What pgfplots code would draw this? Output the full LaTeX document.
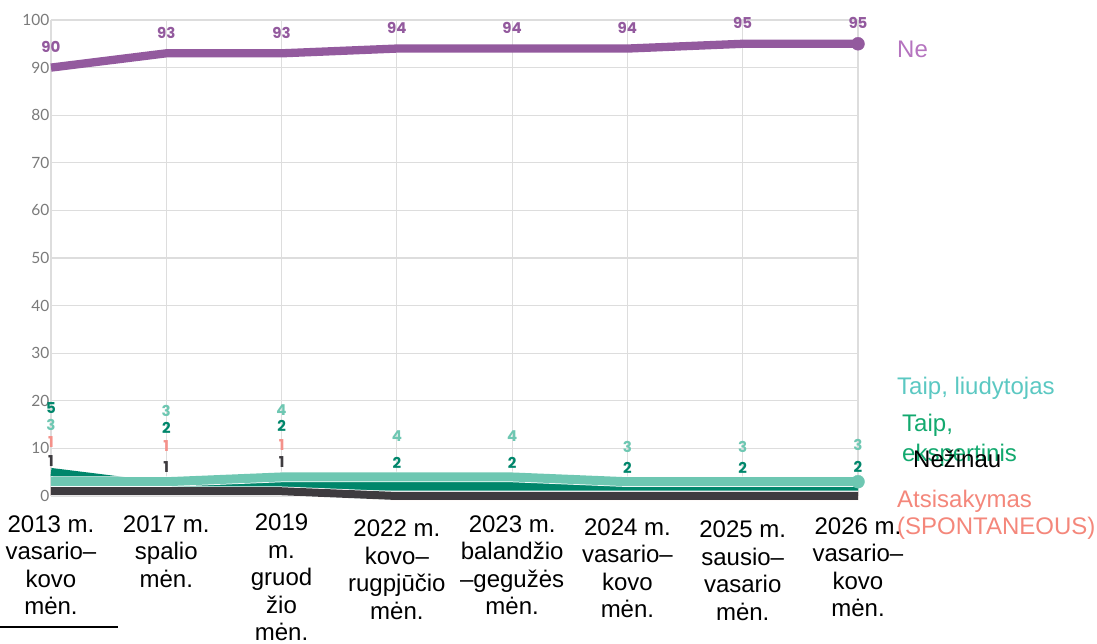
\documentclass[border=0pt]{standalone}
\usepackage{fontspec}
\setmainfont{Liberation Sans}
\newfontfamily\gfont{Lato}
\newfontfamily\pfont{Poppins}
\usepackage{pgfplots}
\pgfplotsset{compat=1.18}
\definecolor{cpurple}{HTML}{935A9E}
\definecolor{cpurpleL}{HTML}{B574BF}
\definecolor{clteal}{HTML}{6EC7B2}
\definecolor{cdgreen}{HTML}{00866B}
\definecolor{cgray}{HTML}{3E3B3F}
\definecolor{csalmon}{HTML}{F4918A}
\definecolor{ctaipL}{HTML}{5BC8C2}
\definecolor{ctaipE}{HTML}{12A96E}
\definecolor{catsi}{HTML}{F4877B}
\definecolor{cgrid}{HTML}{DDDDDD}
\definecolor{ctick}{HTML}{7A7A7A}
\newcommand{\lbl}{\pfont\bfseries\fontsize{15}{15}\selectfont}
\newcommand{\dn}[1]{\rule{0pt}{#1}}
\begin{document}
\begin{tikzpicture}
\path[use as bounding box] (-51pt,-148pt) rectangle (1046pt,496pt);
\begin{axis}[
  at={(0pt,0pt)}, anchor=south west,
  scale only axis, width=807pt, height=476pt,
  xmin=0, xmax=7, ymin=0, ymax=100,
  clip=false,
  axis line style={draw=none},
  grid=major,
  major grid style={draw=cgrid, line width=1.2pt},
  tick style={draw=none},
  xtick={0,1,2,3,4,5,6,7},
  ytick={0,10,20,30,40,50,60,70,80,90,100},
  /pgf/number format/assume math mode=true,
  yticklabel style={font=\gfont\fontsize{15.5}{16}\selectfont, text=ctick, xshift=2pt},
  xticklabel style={font=\fontsize{24}{27.5}\selectfont, align=center, anchor=north, yshift=-18pt, inner sep=0pt},
  xticklabels={
    {\dn{18pt}2013 m.\\vasario–\\kovo\\mėn.},
    {\dn{18pt}2017 m.\\spalio\\mėn.},
    {2019\\m.\\gruod\\žio\\mėn.},
    {\dn{22.5pt}2022 m.\\kovo–\\rugpjūčio\\mėn.},
    {\dn{18pt}2023 m.\\balandžio\\–gegužės\\mėn.},
    {\dn{21pt}2024 m.\\vasario–\\kovo\\mėn.},
    {\dn{23.5pt}2025 m.\\sausio–\\vasario\\mėn.},
    {\dn{20pt}2026 m.\\vasario–\\kovo\\mėn.}},
]
% Atsisakymas (SPONTANEOUS)
\addplot[csalmon, line width=8.5pt, line join=round] coordinates {(0,1) (1,1) (2,1) (3,0) (4,0) (5,0) (6,0) (7,0)};
% Taip, ekspertinis
\addplot[cdgreen, line width=8.5pt, line join=round, preaction={draw=white, line width=10pt}] coordinates {(0,5) (1,2) (2,2) (3,2) (4,2) (5,2) (6,2) (7,2)};
% Taip, liudytojas
\addplot[clteal, line width=9pt, line join=round, preaction={draw=white, line width=10.5pt}] coordinates {(0,3) (1,3) (2,4) (3,4) (4,4) (5,3) (6,3) (7,3)};
\addplot[only marks, mark=*, mark size=6.5pt, clteal, mark options={draw=clteal, fill=clteal}] coordinates {(7,3)};
% Nezinau
\addplot[cgray, line width=8pt, line join=round, preaction={draw=white, line width=9.5pt}] coordinates {(0,1) (1,1) (2,1) (3,0) (4,0) (5,0) (6,0) (7,0)};
% Ne
\addplot[cpurple, line width=8.3pt, line join=round,
  nodes near coords,
  every node near coord/.style={font=\lbl, text=cpurple, anchor=center, yshift=20.5pt}]
  coordinates {(0,90) (1,93) (2,93) (3,94) (4,94) (5,94) (6,95) (7,95)};
\addplot[only marks, mark=*, mark size=6.5pt, cpurple, mark options={draw=cpurple, fill=cpurple}] coordinates {(7,95)};
% small labels
\node[font=\lbl, text=cdgreen] at (axis cs:0,18.4) {5};
\node[font=\lbl, text=clteal] at (axis cs:0,14.9) {3};
\node[font=\lbl, text=csalmon] at (axis cs:0,11.4) {1};
\node[font=\lbl, text=cgray] at (axis cs:0,7.35) {1};
\node[font=\lbl, text=clteal] at (axis cs:1,17.9) {3};
\node[font=\lbl, text=cdgreen] at (axis cs:1,14.3) {2};
\node[font=\lbl, text=csalmon] at (axis cs:1,10.4) {1};
\node[font=\lbl, text=cgray] at (axis cs:1,6.1) {1};
\node[font=\lbl, text=clteal] at (axis cs:2,18.1) {4};
\node[font=\lbl, text=cdgreen] at (axis cs:2,14.8) {2};
\node[font=\lbl, text=csalmon] at (axis cs:2,10.8) {1};
\node[font=\lbl, text=cgray] at (axis cs:2,7.2) {1};
\node[font=\lbl, text=clteal] at (axis cs:3,12.5) {4};
\node[font=\lbl, text=cdgreen] at (axis cs:3,7.0) {2};
\node[font=\lbl, text=clteal] at (axis cs:4,12.5) {4};
\node[font=\lbl, text=cdgreen] at (axis cs:4,7.0) {2};
\node[font=\lbl, text=clteal] at (axis cs:5,10.4) {3};
\node[font=\lbl, text=cdgreen] at (axis cs:5,6.0) {2};
\node[font=\lbl, text=clteal] at (axis cs:6,10.4) {3};
\node[font=\lbl, text=cdgreen] at (axis cs:6,6.0) {2};
\node[font=\lbl, text=clteal] at (axis cs:7,10.8) {3};
\node[font=\lbl, text=cdgreen] at (axis cs:7,6.1) {2};
\end{axis}
% series names on the right
\node[anchor=base west, inner sep=0pt, font=\fontsize{24}{24}\selectfont, text=cpurpleL] at (846pt,438pt) {Ne};
\node[anchor=base west, inner sep=0pt, font=\fontsize{24}{24}\selectfont, text=ctaipL] at (846pt,101pt) {Taip, liudytojas};
\node[anchor=base west, inner sep=0pt, font=\fontsize{24}{24}\selectfont, text=ctaipE] at (851pt,64pt) {Taip,};
\node[anchor=base west, inner sep=0pt, font=\fontsize{24}{24}\selectfont, text=ctaipE] at (851pt,34pt) {ekspertinis};
\node[anchor=base west, inner sep=0pt, font=\fontsize{24}{24}\selectfont, text=black] at (862pt,28pt) {Nežinau};
\node[anchor=base west, inner sep=0pt, font=\fontsize{24}{24}\selectfont, text=catsi] at (846pt,-12pt) {Atsisakymas};
\node[anchor=base west, inner sep=0pt, font=\fontsize{24}{24}\selectfont, text=catsi] at (846pt,-39pt) {(SPONTANEOUS)};
\draw[black, line width=1.8pt] (-51pt,-131pt) -- (67pt,-131pt);
\end{tikzpicture}
\end{document}
